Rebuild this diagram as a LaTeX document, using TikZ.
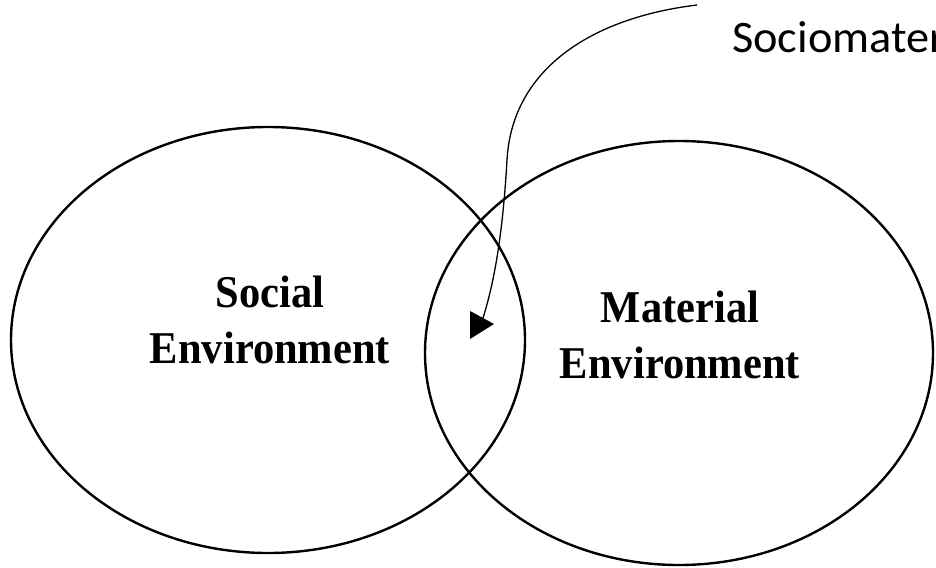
\documentclass[tikz,border=0pt]{standalone}
\usepackage{fontspec}
\setmainfont{Liberation Serif}
\newfontfamily\calib{Carlito}
\usetikzlibrary{arrows.meta}
\tikzset{
  lbl/.style={font=\fontsize{42.5}{52}\selectfont\bfseries, align=center, inner sep=0pt, yscale=1.07},
  toplbl/.style={font=\calib\fontsize{45}{53}\selectfont, inner sep=0pt, anchor=base west, xscale=1.03},
  link/.style={draw=black, line width=1.3pt}
}
\begin{document}
\begin{tikzpicture}[x=1pt, y=-1pt]
\useasboundingbox (0,0) rectangle (936,567);
\clip (0,0) rectangle (936,567);
\draw[line width=2.4pt] (268,340) ellipse [x radius=257, y radius=213];
\draw[line width=2.4pt] (679,353) ellipse [x radius=254, y radius=212];
\node[lbl] (soc) at (270,320) {Social\\Environment};
\node[lbl] (mat) at (680,335) {Material\\Environment};
\node[toplbl] (top) at (732,53) {Sociomaterial};
\coordinate (start) at (697,5);
\draw[link] (start) .. controls (590,18) and (512,70) .. (507,160)
   .. controls (503,230) and (495,280) .. (483,318);
\fill (470,311) -- (494,324) -- (470,339) -- cycle;
\end{tikzpicture}
\end{document}
